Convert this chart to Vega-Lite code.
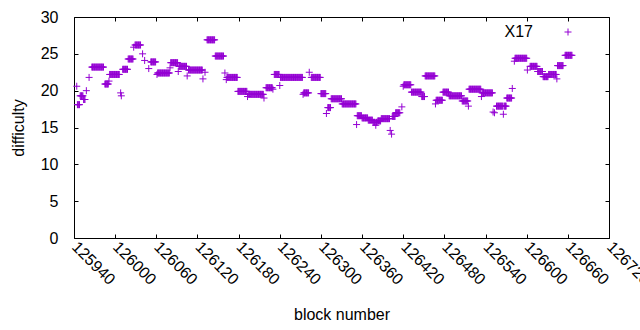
{
"$schema":"https://vega.github.io/schema/vega-lite/v6.json",
"width":535,"height":221,
"autosize":{"type":"none"},
"padding":{"left":74,"top":17,"right":31,"bottom":92},
"background":"white",
"config":{"view":{"stroke":"#000","strokeWidth":1},"font":"Liberation Sans",
"axis":{"domain":false,"grid":false,"tickColor":"#000","tickWidth":1,"tickSize":-4,"labelFont":"Liberation Sans","labelFontSize":16,"labelColor":"#000","titleFont":"Liberation Sans","titleFontSize":16,"titleFontWeight":"normal","titleColor":"#000"}},
"data":{"values":[
{"b":125944,"d":20.6},
{"b":125945,"d":18.1},{"b":125946,"d":18.1},{"b":125947,"d":18.1},{"b":125948,"d":18.1},
{"b":125949,"d":19.3},{"b":125950,"d":19.3},{"b":125951,"d":19.3},{"b":125952,"d":19.3},{"b":125953,"d":19.3},
{"b":125954,"d":18.8},{"b":125955,"d":18.8},{"b":125956,"d":18.8},
{"b":125958,"d":20.0},
{"b":125962,"d":21.8},
{"b":125966,"d":23.2},{"b":125967,"d":23.2},{"b":125968,"d":23.2},{"b":125969,"d":23.2},{"b":125970,"d":23.2},{"b":125971,"d":23.2},{"b":125972,"d":23.2},{"b":125973,"d":23.2},{"b":125974,"d":23.2},{"b":125975,"d":23.2},{"b":125976,"d":23.2},{"b":125977,"d":23.2},{"b":125978,"d":23.2},{"b":125979,"d":23.2},{"b":125980,"d":23.2},{"b":125981,"d":23.2},{"b":125982,"d":23.2},{"b":125983,"d":23.2},
{"b":125985,"d":20.9},{"b":125986,"d":20.9},{"b":125987,"d":20.9},{"b":125988,"d":20.9},{"b":125989,"d":20.9},{"b":125990,"d":20.9},
{"b":125991,"d":21.3},
{"b":125992,"d":22.2},{"b":125993,"d":22.2},{"b":125994,"d":22.2},{"b":125995,"d":22.2},{"b":125996,"d":22.2},{"b":125997,"d":22.2},{"b":125998,"d":22.2},{"b":125999,"d":22.2},{"b":126000,"d":22.2},{"b":126001,"d":22.2},{"b":126002,"d":22.2},{"b":126003,"d":22.2},{"b":126004,"d":22.2},{"b":126005,"d":22.2},{"b":126006,"d":22.2},
{"b":126008,"d":19.7},{"b":126009,"d":19.3},
{"b":126011,"d":22.9},{"b":126012,"d":22.9},{"b":126013,"d":22.9},{"b":126014,"d":22.9},{"b":126015,"d":22.9},{"b":126016,"d":22.9},{"b":126017,"d":22.9},{"b":126018,"d":22.9},
{"b":126019,"d":24.3},{"b":126020,"d":24.3},{"b":126021,"d":24.3},{"b":126022,"d":24.3},{"b":126023,"d":24.3},{"b":126024,"d":24.3},{"b":126025,"d":24.3},{"b":126026,"d":24.3},
{"b":126027,"d":25.9},
{"b":126029,"d":26.2},{"b":126030,"d":26.2},{"b":126031,"d":26.2},{"b":126032,"d":26.2},{"b":126033,"d":26.2},{"b":126034,"d":26.2},{"b":126035,"d":26.2},{"b":126036,"d":26.2},{"b":126037,"d":26.2},
{"b":126040,"d":25.0},{"b":126043,"d":24.1},{"b":126049,"d":23.0},
{"b":126052,"d":23.9},{"b":126053,"d":23.9},{"b":126054,"d":23.9},{"b":126055,"d":23.9},{"b":126056,"d":23.9},{"b":126057,"d":23.9},{"b":126058,"d":23.9},{"b":126059,"d":23.9},
{"b":126061,"d":22.2},
{"b":126062,"d":22.4},{"b":126063,"d":22.4},{"b":126064,"d":22.4},{"b":126065,"d":22.4},{"b":126066,"d":22.4},{"b":126067,"d":22.4},{"b":126068,"d":22.4},{"b":126069,"d":22.4},{"b":126070,"d":22.4},{"b":126071,"d":22.4},{"b":126072,"d":22.4},{"b":126073,"d":22.4},{"b":126074,"d":22.4},{"b":126075,"d":22.4},{"b":126076,"d":22.4},{"b":126077,"d":22.4},{"b":126078,"d":22.4},{"b":126079,"d":22.4},
{"b":126080,"d":23.1},
{"b":126081,"d":23.8},{"b":126082,"d":23.8},{"b":126083,"d":23.8},{"b":126084,"d":23.8},{"b":126085,"d":23.8},{"b":126086,"d":23.8},{"b":126087,"d":23.8},{"b":126088,"d":23.8},{"b":126089,"d":23.8},{"b":126090,"d":23.8},{"b":126091,"d":23.8},
{"b":126092,"d":22.6},
{"b":126093,"d":23.3},{"b":126094,"d":23.3},{"b":126095,"d":23.3},{"b":126096,"d":23.3},{"b":126097,"d":23.3},{"b":126098,"d":23.3},{"b":126099,"d":23.3},{"b":126100,"d":23.3},{"b":126101,"d":23.3},{"b":126102,"d":23.3},{"b":126103,"d":23.3},{"b":126104,"d":23.3},
{"b":126105,"d":22.0},
{"b":126107,"d":22.8},{"b":126108,"d":22.8},{"b":126109,"d":22.8},{"b":126110,"d":22.8},{"b":126111,"d":22.8},{"b":126112,"d":22.8},{"b":126113,"d":22.8},{"b":126114,"d":22.8},{"b":126115,"d":22.8},{"b":126116,"d":22.8},{"b":126117,"d":22.8},{"b":126118,"d":22.8},{"b":126119,"d":22.8},{"b":126120,"d":22.8},{"b":126121,"d":22.8},{"b":126122,"d":22.8},{"b":126123,"d":22.8},{"b":126124,"d":22.8},{"b":126125,"d":22.8},{"b":126126,"d":22.8},{"b":126127,"d":22.8},
{"b":126128,"d":21.6},{"b":126131,"d":22.5},
{"b":126134,"d":26.9},{"b":126135,"d":26.9},{"b":126136,"d":26.9},{"b":126137,"d":26.9},{"b":126138,"d":26.9},{"b":126139,"d":26.9},{"b":126140,"d":26.9},{"b":126141,"d":26.9},{"b":126142,"d":26.9},{"b":126143,"d":26.9},{"b":126144,"d":26.9},{"b":126145,"d":26.9},
{"b":126146,"d":24.7},{"b":126147,"d":24.7},{"b":126148,"d":24.7},{"b":126149,"d":24.7},{"b":126150,"d":24.7},{"b":126151,"d":24.7},{"b":126152,"d":24.7},{"b":126153,"d":24.7},{"b":126154,"d":24.7},{"b":126155,"d":24.7},{"b":126156,"d":24.7},{"b":126157,"d":24.7},{"b":126158,"d":24.7},
{"b":126160,"d":22.4},{"b":126162,"d":21.5},
{"b":126163,"d":21.8},{"b":126164,"d":21.8},{"b":126165,"d":21.8},{"b":126166,"d":21.8},{"b":126167,"d":21.8},{"b":126168,"d":21.8},{"b":126169,"d":21.8},{"b":126170,"d":21.8},{"b":126171,"d":21.8},{"b":126172,"d":21.8},{"b":126173,"d":21.8},{"b":126174,"d":21.8},{"b":126175,"d":21.8},{"b":126176,"d":21.8},{"b":126177,"d":21.8},{"b":126178,"d":21.8},
{"b":126179,"d":19.9},{"b":126180,"d":19.9},{"b":126181,"d":19.9},{"b":126182,"d":19.9},{"b":126183,"d":19.9},{"b":126184,"d":19.9},{"b":126185,"d":19.9},{"b":126186,"d":19.9},{"b":126187,"d":19.9},{"b":126188,"d":19.9},{"b":126189,"d":19.9},{"b":126190,"d":19.9},{"b":126191,"d":19.9},{"b":126192,"d":19.9},
{"b":126193,"d":19.2},
{"b":126194,"d":19.5},{"b":126195,"d":19.5},{"b":126196,"d":19.5},{"b":126197,"d":19.5},{"b":126198,"d":19.5},{"b":126199,"d":19.5},{"b":126200,"d":19.5},{"b":126201,"d":19.5},{"b":126202,"d":19.5},{"b":126203,"d":19.5},{"b":126204,"d":19.5},{"b":126205,"d":19.5},{"b":126206,"d":19.5},{"b":126207,"d":19.5},{"b":126208,"d":19.5},{"b":126209,"d":19.5},{"b":126210,"d":19.5},{"b":126211,"d":19.5},{"b":126212,"d":19.5},{"b":126213,"d":19.5},{"b":126214,"d":19.5},{"b":126215,"d":19.5},{"b":126216,"d":19.5},
{"b":126217,"d":19.0},
{"b":126220,"d":20.4},{"b":126221,"d":20.4},{"b":126222,"d":20.4},{"b":126223,"d":20.4},{"b":126224,"d":20.4},{"b":126225,"d":20.4},{"b":126226,"d":20.4},{"b":126227,"d":20.4},{"b":126228,"d":20.4},{"b":126229,"d":20.4},
{"b":126230,"d":20.2},
{"b":126232,"d":22.2},{"b":126233,"d":22.2},{"b":126234,"d":22.2},{"b":126235,"d":22.2},{"b":126236,"d":22.2},{"b":126237,"d":22.2},{"b":126238,"d":22.2},{"b":126239,"d":22.2},
{"b":126240,"d":20.7},
{"b":126241,"d":21.8},{"b":126242,"d":21.8},{"b":126243,"d":21.8},{"b":126244,"d":21.8},{"b":126245,"d":21.8},{"b":126246,"d":21.8},{"b":126247,"d":21.8},{"b":126248,"d":21.8},{"b":126249,"d":21.8},{"b":126250,"d":21.8},{"b":126251,"d":21.8},{"b":126252,"d":21.8},{"b":126253,"d":21.8},{"b":126254,"d":21.8},{"b":126255,"d":21.8},{"b":126256,"d":21.8},{"b":126257,"d":21.8},{"b":126258,"d":21.8},{"b":126259,"d":21.8},{"b":126260,"d":21.8},{"b":126261,"d":21.8},{"b":126262,"d":21.8},{"b":126263,"d":21.8},{"b":126264,"d":21.8},{"b":126265,"d":21.8},{"b":126266,"d":21.8},{"b":126267,"d":21.8},{"b":126268,"d":21.8},{"b":126269,"d":21.8},{"b":126270,"d":21.8},{"b":126271,"d":21.8},{"b":126272,"d":21.8},{"b":126273,"d":21.8},
{"b":126274,"d":19.5},
{"b":126275,"d":19.7},{"b":126276,"d":19.7},{"b":126277,"d":19.7},{"b":126278,"d":19.7},{"b":126279,"d":19.7},{"b":126280,"d":19.7},{"b":126281,"d":19.7},{"b":126282,"d":19.7},
{"b":126283,"d":22.5},
{"b":126286,"d":21.8},{"b":126287,"d":21.8},{"b":126288,"d":21.8},{"b":126289,"d":21.8},{"b":126290,"d":21.8},{"b":126291,"d":21.8},{"b":126292,"d":21.8},{"b":126293,"d":21.8},{"b":126294,"d":21.8},{"b":126295,"d":21.8},{"b":126296,"d":21.8},{"b":126297,"d":21.8},{"b":126298,"d":21.8},{"b":126299,"d":21.8},
{"b":126300,"d":19.6},{"b":126301,"d":19.6},{"b":126302,"d":19.6},{"b":126303,"d":19.6},{"b":126304,"d":19.6},{"b":126305,"d":19.6},{"b":126306,"d":19.6},{"b":126307,"d":19.6},
{"b":126308,"d":16.9},
{"b":126310,"d":17.7},{"b":126311,"d":17.7},{"b":126312,"d":17.7},{"b":126313,"d":17.7},{"b":126314,"d":17.7},
{"b":126315,"d":18.9},{"b":126316,"d":18.9},{"b":126317,"d":18.9},{"b":126318,"d":18.9},{"b":126319,"d":18.9},{"b":126320,"d":18.9},{"b":126321,"d":18.9},{"b":126322,"d":18.9},{"b":126323,"d":18.9},{"b":126324,"d":18.9},{"b":126325,"d":18.9},{"b":126326,"d":18.9},{"b":126327,"d":18.9},{"b":126328,"d":18.9},{"b":126329,"d":18.9},{"b":126330,"d":18.9},
{"b":126331,"d":18.2},{"b":126332,"d":18.2},{"b":126333,"d":18.2},{"b":126334,"d":18.2},{"b":126335,"d":18.2},{"b":126336,"d":18.2},{"b":126337,"d":18.2},{"b":126338,"d":18.2},{"b":126339,"d":18.2},{"b":126340,"d":18.2},{"b":126341,"d":18.2},{"b":126342,"d":18.2},{"b":126343,"d":18.2},{"b":126344,"d":18.2},{"b":126345,"d":18.2},{"b":126346,"d":18.2},{"b":126347,"d":18.2},{"b":126348,"d":18.2},{"b":126349,"d":18.2},{"b":126350,"d":18.2},{"b":126351,"d":18.2},
{"b":126352,"d":15.4},
{"b":126353,"d":16.6},{"b":126354,"d":16.6},{"b":126355,"d":16.6},{"b":126356,"d":16.6},{"b":126357,"d":16.6},{"b":126358,"d":16.6},{"b":126359,"d":16.6},
{"b":126360,"d":16.3},{"b":126361,"d":16.3},{"b":126362,"d":16.3},{"b":126363,"d":16.3},{"b":126364,"d":16.3},{"b":126365,"d":16.3},{"b":126366,"d":16.3},{"b":126367,"d":16.3},{"b":126368,"d":16.3},
{"b":126369,"d":16.0},{"b":126370,"d":16.0},{"b":126371,"d":16.0},{"b":126372,"d":16.0},{"b":126373,"d":16.0},{"b":126374,"d":16.0},{"b":126375,"d":16.0},
{"b":126376,"d":15.7},{"b":126377,"d":15.7},{"b":126378,"d":15.7},{"b":126379,"d":15.7},{"b":126380,"d":15.3},{"b":126381,"d":15.7},{"b":126382,"d":15.7},
{"b":126383,"d":15.9},{"b":126384,"d":15.9},{"b":126385,"d":15.9},{"b":126386,"d":15.9},{"b":126387,"d":15.9},
{"b":126388,"d":16.2},{"b":126389,"d":16.2},{"b":126390,"d":16.2},{"b":126391,"d":16.2},{"b":126392,"d":16.2},{"b":126393,"d":16.2},{"b":126394,"d":16.2},{"b":126395,"d":16.2},{"b":126396,"d":16.2},{"b":126397,"d":16.2},{"b":126398,"d":16.2},{"b":126399,"d":16.2},{"b":126400,"d":16.2},
{"b":126401,"d":14.6},{"b":126403,"d":14.1},
{"b":126404,"d":16.5},{"b":126405,"d":16.5},{"b":126406,"d":16.5},{"b":126407,"d":16.5},{"b":126408,"d":16.5},
{"b":126409,"d":17.0},{"b":126410,"d":17.0},{"b":126411,"d":17.0},{"b":126412,"d":17.0},{"b":126413,"d":17.0},{"b":126414,"d":17.0},{"b":126415,"d":17.0},
{"b":126418,"d":17.8},{"b":126420,"d":20.6},
{"b":126421,"d":20.8},{"b":126422,"d":20.8},{"b":126423,"d":20.8},{"b":126424,"d":20.8},{"b":126425,"d":20.8},{"b":126426,"d":20.8},{"b":126427,"d":20.8},{"b":126428,"d":20.8},{"b":126429,"d":20.8},{"b":126430,"d":20.8},{"b":126431,"d":20.8},
{"b":126432,"d":19.8},{"b":126433,"d":19.8},{"b":126434,"d":19.8},{"b":126435,"d":19.8},{"b":126436,"d":19.8},{"b":126437,"d":19.8},{"b":126438,"d":19.8},{"b":126439,"d":19.8},{"b":126440,"d":19.8},{"b":126441,"d":19.8},{"b":126442,"d":19.8},{"b":126443,"d":19.8},{"b":126444,"d":19.8},{"b":126445,"d":19.8},{"b":126446,"d":19.8},
{"b":126447,"d":19.2},{"b":126448,"d":19.2},{"b":126449,"d":19.2},{"b":126450,"d":19.2},{"b":126451,"d":19.2},
{"b":126452,"d":22.0},{"b":126453,"d":22.0},{"b":126454,"d":22.0},{"b":126455,"d":22.0},{"b":126456,"d":22.0},{"b":126457,"d":22.0},{"b":126458,"d":22.0},{"b":126459,"d":22.0},{"b":126460,"d":22.0},{"b":126461,"d":22.0},{"b":126462,"d":22.0},{"b":126463,"d":22.0},{"b":126464,"d":22.0},{"b":126465,"d":22.0},{"b":126466,"d":22.0},
{"b":126467,"d":18.2},
{"b":126468,"d":18.7},{"b":126469,"d":18.7},{"b":126470,"d":18.7},{"b":126471,"d":18.7},{"b":126472,"d":18.7},{"b":126473,"d":18.7},{"b":126474,"d":18.7},{"b":126475,"d":18.7},{"b":126476,"d":18.7},{"b":126477,"d":18.7},
{"b":126478,"d":19.8},{"b":126479,"d":19.8},{"b":126480,"d":19.8},{"b":126481,"d":19.8},{"b":126482,"d":19.8},{"b":126483,"d":19.8},{"b":126484,"d":19.8},{"b":126485,"d":19.8},{"b":126486,"d":19.8},
{"b":126487,"d":19.3},{"b":126488,"d":19.3},{"b":126489,"d":19.3},{"b":126490,"d":19.3},{"b":126491,"d":19.3},{"b":126492,"d":19.3},{"b":126493,"d":19.3},{"b":126494,"d":19.3},{"b":126495,"d":19.3},{"b":126496,"d":19.3},{"b":126497,"d":19.3},{"b":126498,"d":19.3},{"b":126499,"d":19.3},{"b":126500,"d":19.3},{"b":126501,"d":19.3},{"b":126502,"d":19.3},{"b":126503,"d":19.3},{"b":126504,"d":19.3},{"b":126505,"d":19.3},
{"b":126506,"d":18.6},{"b":126507,"d":18.6},{"b":126508,"d":18.6},{"b":126509,"d":18.6},{"b":126510,"d":18.6},{"b":126511,"d":18.6},{"b":126512,"d":18.6},{"b":126513,"d":18.6},{"b":126514,"d":18.6},
{"b":126515,"d":17.9},
{"b":126516,"d":20.2},{"b":126517,"d":20.2},{"b":126518,"d":20.2},{"b":126519,"d":20.2},{"b":126520,"d":20.2},{"b":126521,"d":20.2},{"b":126522,"d":20.2},{"b":126523,"d":20.2},{"b":126524,"d":20.2},{"b":126525,"d":20.2},{"b":126526,"d":20.2},{"b":126527,"d":20.2},{"b":126528,"d":20.2},{"b":126529,"d":20.2},{"b":126530,"d":20.2},{"b":126531,"d":20.2},{"b":126532,"d":20.2},{"b":126533,"d":20.2},
{"b":126534,"d":19.2},
{"b":126535,"d":19.7},{"b":126536,"d":19.7},{"b":126537,"d":19.7},{"b":126538,"d":19.7},{"b":126539,"d":19.7},{"b":126540,"d":19.7},{"b":126541,"d":19.7},{"b":126542,"d":19.7},{"b":126543,"d":19.7},{"b":126544,"d":19.7},{"b":126545,"d":19.7},{"b":126546,"d":19.7},{"b":126547,"d":19.7},{"b":126548,"d":19.7},{"b":126549,"d":19.7},{"b":126550,"d":19.7},
{"b":126551,"d":17.1},{"b":126553,"d":17.0},
{"b":126556,"d":17.9},{"b":126557,"d":17.9},{"b":126558,"d":17.9},{"b":126559,"d":17.9},{"b":126560,"d":17.9},{"b":126561,"d":17.9},{"b":126562,"d":17.9},{"b":126563,"d":17.9},{"b":126564,"d":17.9},{"b":126565,"d":17.9},
{"b":126566,"d":16.8},
{"b":126567,"d":17.9},{"b":126568,"d":17.9},{"b":126569,"d":17.9},{"b":126570,"d":17.9},
{"b":126571,"d":19.0},{"b":126572,"d":19.0},{"b":126573,"d":19.0},{"b":126574,"d":19.0},{"b":126575,"d":19.0},{"b":126576,"d":19.0},{"b":126577,"d":19.0},{"b":126578,"d":19.0},
{"b":126579,"d":20.3},{"b":126582,"d":24.0},
{"b":126583,"d":24.4},{"b":126584,"d":24.4},{"b":126585,"d":24.4},{"b":126586,"d":24.4},{"b":126587,"d":24.4},{"b":126588,"d":24.4},{"b":126589,"d":24.4},{"b":126590,"d":24.4},{"b":126591,"d":24.4},{"b":126592,"d":24.4},{"b":126593,"d":24.4},{"b":126594,"d":24.4},{"b":126595,"d":24.4},{"b":126596,"d":24.4},{"b":126597,"d":24.4},{"b":126598,"d":24.4},{"b":126599,"d":24.4},{"b":126600,"d":24.4},
{"b":126601,"d":22.8},
{"b":126605,"d":23.3},{"b":126606,"d":23.3},{"b":126607,"d":23.3},{"b":126608,"d":23.3},{"b":126609,"d":23.3},{"b":126610,"d":23.3},{"b":126611,"d":23.3},{"b":126612,"d":23.3},{"b":126613,"d":23.3},{"b":126614,"d":23.3},{"b":126615,"d":23.3},
{"b":126616,"d":22.6},{"b":126617,"d":22.6},{"b":126618,"d":22.6},{"b":126619,"d":22.6},{"b":126620,"d":22.6},{"b":126621,"d":22.6},{"b":126622,"d":22.6},{"b":126623,"d":22.6},
{"b":126624,"d":21.9},{"b":126625,"d":21.9},{"b":126626,"d":21.9},{"b":126627,"d":21.9},{"b":126628,"d":21.9},{"b":126629,"d":21.9},{"b":126630,"d":21.9},{"b":126631,"d":21.9},
{"b":126632,"d":22.2},{"b":126633,"d":22.2},{"b":126634,"d":22.2},{"b":126635,"d":22.2},{"b":126636,"d":22.2},{"b":126637,"d":22.2},{"b":126638,"d":22.2},{"b":126639,"d":22.2},{"b":126640,"d":22.2},{"b":126641,"d":22.2},{"b":126642,"d":22.2},{"b":126643,"d":22.2},
{"b":126644,"d":21.6},
{"b":126645,"d":23.4},{"b":126646,"d":23.4},{"b":126647,"d":23.4},{"b":126648,"d":23.4},{"b":126649,"d":23.4},{"b":126650,"d":23.4},{"b":126651,"d":23.4},{"b":126652,"d":23.4},{"b":126653,"d":23.4},
{"b":126656,"d":24.8},{"b":126657,"d":24.8},{"b":126658,"d":24.8},{"b":126659,"d":24.8},{"b":126660,"d":24.8},{"b":126661,"d":24.8},{"b":126662,"d":24.8},{"b":126663,"d":24.8},{"b":126664,"d":24.8},{"b":126665,"d":24.8},{"b":126666,"d":24.8}
]},
"layer":[
{"mark":{"type":"point","shape":"M-1,0L1,0M0,-1L0,1","size":49,"filled":false,"strokeWidth":1,"opacity":1},
"encoding":{
"x":{"field":"b","type":"quantitative","scale":{"domain":[125940,126720],"nice":false,"zero":false},
"axis":{"orient":"bottom","title":"block number","values":[125940,126000,126060,126120,126180,126240,126300,126360,126420,126480,126540,126600,126660,126720],"format":"d","labelAngle":45,"labelAlign":"left","labelBaseline":"middle","labelPadding":10,"titlePadding":19,"labelOverlap":false,"labelFlush":false}},
"y":{"field":"d","type":"quantitative","scale":{"domain":[0,30],"nice":false,"zero":true},
"axis":{"orient":"left","title":"difficulty","values":[0,5,10,15,20,25,30],"labelPadding":20,"titlePadding":14,"labelFlush":false}},
"color":{"datum":"X17","type":"nominal","scale":{"range":["#9400d3"]},
"legend":{"orient":"none","legendX":486,"legendY":7,"title":null,"labelFontSize":16,"labelFont":"Liberation Sans","labelColor":"#000","symbolType":"M-1,0L1,0M0,-1L0,1","symbolSize":49,"symbolStrokeWidth":1,"symbolFillColor":"transparent","labelAlign":"right","labelOffset":-43,"padding":0}}
}},
{"mark":{"type":"point","opacity":0},
"encoding":{
"x":{"field":"b","type":"quantitative","axis":{"orient":"top","title":null,"labels":false,"values":[125940,126000,126060,126120,126180,126240,126300,126360,126420,126480,126540,126600,126660,126720]}},
"y":{"field":"d","type":"quantitative","axis":{"orient":"right","title":null,"labels":false,"values":[0,5,10,15,20,25,30]}}
}}
],
"resolve":{"axis":{"x":"independent","y":"independent"}}
}
